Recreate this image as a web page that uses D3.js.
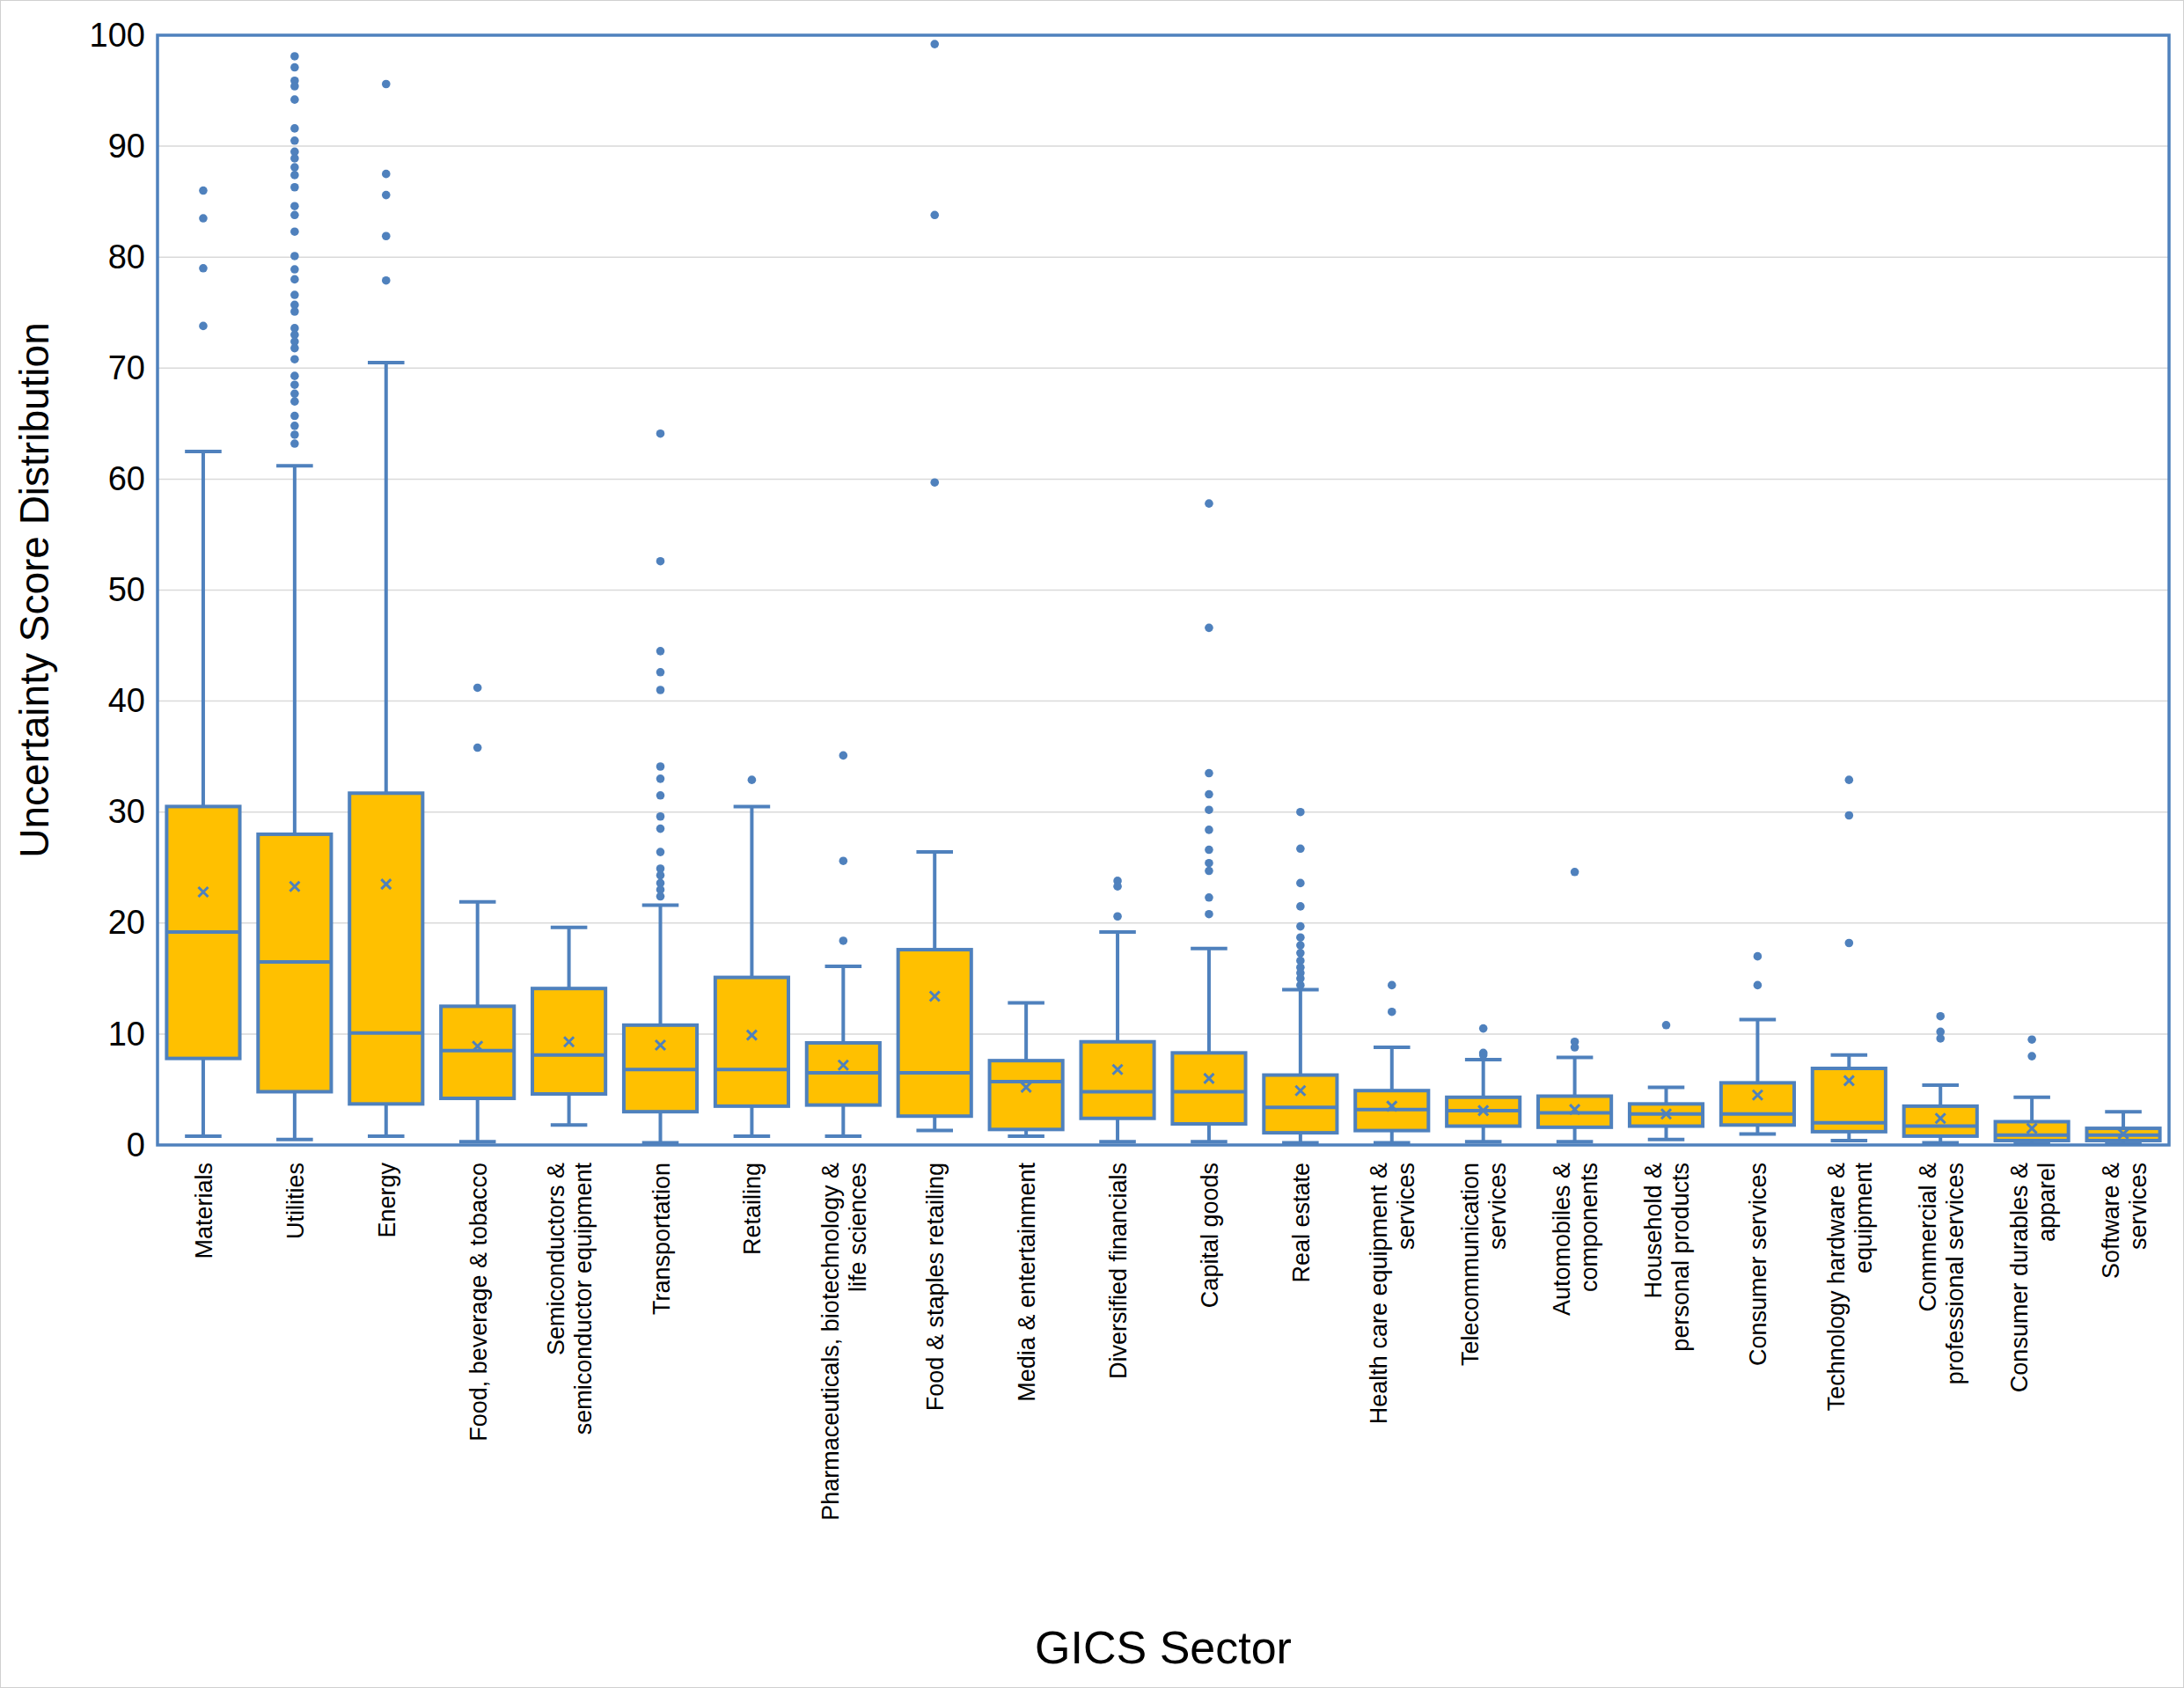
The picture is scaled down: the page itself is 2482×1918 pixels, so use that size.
<!DOCTYPE html><html><head><meta charset="utf-8"><script src="https://cdn.jsdelivr.net/npm/d3@7"></script>
<style>body{margin:0;background:#fff}svg{display:block}</style></head><body><svg id="c" width="2482" height="1918"></svg><script>
const categories=["Materials","Utilities","Energy","Food, beverage & tobacco","Semiconductors &\nsemiconductor equipment","Transportation","Retailing","Pharmaceuticals, biotechnology &\nlife sciences","Food & staples retailing","Media & entertainment","Diversified financials","Capital goods","Real estate","Health care equipment &\nservices","Telecommunication\nservices","Automobiles &\ncomponents","Household &\npersonal products","Consumer services","Technology hardware &\nequipment","Commercial &\nprofessional services","Consumer durables &\napparel","Software &\nservices"];
const mins=[0.8,0.5,0.8,0.3,1.8,0.2,0.8,0.8,1.3,0.8,0.3,0.3,0.2,0.2,0.3,0.3,0.5,1.0,0.4,0.2,0.1,0.1];
const q1s=[7.8,4.8,3.7,4.2,4.6,3.0,3.5,3.6,2.6,1.4,2.4,1.9,1.1,1.3,1.7,1.6,1.7,1.8,1.2,0.8,0.4,0.4];
const medians=[19.2,16.5,10.1,8.5,8.1,6.8,6.8,6.5,6.5,5.7,4.8,4.8,3.4,3.2,3.1,2.9,2.8,2.8,2.0,1.7,0.9,0.9];
const q3s=[30.5,28.0,31.7,12.5,14.1,10.8,15.1,9.2,17.6,7.6,9.3,8.3,6.3,4.9,4.3,4.4,3.7,5.6,6.9,3.5,2.1,1.5];
const maxs=[62.5,61.2,70.5,21.9,19.6,21.6,30.5,16.1,26.4,12.8,19.2,17.7,14.0,8.8,7.7,7.9,5.2,11.3,8.1,5.4,4.3,3.0];
const means=[22.8,23.3,23.5,8.9,9.3,9.0,9.9,7.2,13.4,5.2,6.8,6.0,4.9,3.5,3.1,3.2,2.8,4.5,5.8,2.4,1.5,1.0];
const outliers=[[86.0,83.5,79.0,73.8],
[98.1,97.1,95.9,95.4,94.2,91.6,90.5,89.5,88.9,88.1,87.4,86.3,84.6,83.8,82.3,80.1,78.9,78.0,76.6,75.7,75.1,73.6,73.0,72.4,71.8,70.8,69.3,68.5,67.7,67.0,65.7,64.8,64.0,63.2],
[95.6,87.5,85.6,81.9,77.9],[41.2,35.8],[],
[64.1,52.6,44.5,42.6,41.0,34.1,33.0,31.5,29.6,28.5,26.4,24.9,24.3,23.6,23.0,22.4],
[32.9],[35.1,25.6,18.4],[99.2,83.8,59.7],[],[23.8,23.3,20.6],
[57.8,46.6,33.5,31.6,30.2,28.4,26.6,25.4,24.7,22.3,20.8],
[30.0,26.7,23.6,21.5,19.7,18.7,18.0,17.3,16.6,16.0,15.5,15.0,14.4],
[14.4,12.0],[10.5,8.3,8.1],[24.6,9.3,8.8],[10.8],[17.0,14.4],[32.9,29.7,18.2],[11.6,10.2,9.6],[9.5,8.0],[]];
const yTicks=[0,10,20,30,40,50,60,70,80,90,100];
const blue="#4f81bd",gold="#ffc000";
const L=179,R=2465,T=40,B=1301;
const svg=d3.select("#c");
svg.append("rect").attr("x",0.5).attr("y",0.5).attr("width",2481).attr("height",1917).attr("fill","#fff").attr("stroke","#d0d0d0");
const x=d3.scaleBand().domain(categories).range([L,R]).paddingInner(0.2).paddingOuter(0.1);
const y=d3.scaleLinear().domain([0,100]).range([B,T]);
svg.append("g").selectAll("line").data(yTicks.slice(1)).join("line").attr("x1",L).attr("x2",R).attr("y1",d=>y(d)).attr("y2",d=>y(d)).attr("stroke","#d9d9d9").attr("stroke-width",1.5);
const ya=svg.append("g").attr("transform",`translate(${L},0)`).call(d3.axisLeft(y).tickValues(yTicks).tickSize(0).tickPadding(14));
ya.select(".domain").remove();
ya.selectAll("text").attr("font-family","Arial, Liberation Sans").attr("font-size",38).attr("fill","#000");
const g=svg.append("g");
categories.forEach((c,i)=>{
 const cx=x(c)+x.bandwidth()/2,w=x.bandwidth(),cw=w*0.5;
 const s=g.append("g").attr("stroke",blue).attr("stroke-width",4);
 s.append("line").attr("x1",cx).attr("x2",cx).attr("y1",y(maxs[i])).attr("y2",y(q3s[i]));
 s.append("line").attr("x1",cx).attr("x2",cx).attr("y1",y(q1s[i])).attr("y2",y(mins[i]));
 s.append("line").attr("x1",cx-cw/2).attr("x2",cx+cw/2).attr("y1",y(maxs[i])).attr("y2",y(maxs[i]));
 s.append("line").attr("x1",cx-cw/2).attr("x2",cx+cw/2).attr("y1",y(mins[i])).attr("y2",y(mins[i]));
 s.append("rect").attr("x",x(c)).attr("width",w).attr("y",y(q3s[i])).attr("height",y(q1s[i])-y(q3s[i])).attr("fill",gold);
 s.append("line").attr("x1",x(c)).attr("x2",x(c)+w).attr("y1",y(medians[i])).attr("y2",y(medians[i]));
 const my=y(means[i]),k=5.5;
 s.append("path").attr("d",`M${cx-k},${my-k}L${cx+k},${my+k}M${cx-k},${my+k}L${cx+k},${my-k}`).attr("stroke-width",3);
 outliers[i].forEach(v=>g.append("circle").attr("cx",cx).attr("cy",y(v)).attr("r",4.8).attr("fill",blue));
 const lines=c.split("\n");
 const t=svg.append("text").attr("transform",`translate(${cx},${B+20}) rotate(-90)`).attr("text-anchor","end")
  .attr("font-family","Arial, Liberation Sans").attr("font-size",27).attr("fill","#000");
 const n=lines.length;
 lines.forEach((ln,j)=>t.append("tspan").attr("x",0).attr("y",(j-(n-1)/2)*31+10).text(ln));
});
svg.append("rect").attr("x",L).attr("y",T).attr("width",R-L).attr("height",B-T).attr("fill","none").attr("stroke",blue).attr("stroke-width",3.5);
svg.append("text").attr("transform",`translate(55,${(T+B)/2}) rotate(-90)`).attr("text-anchor","middle").attr("font-family","Arial, Liberation Sans").attr("font-size",46).text("Uncertainty Score Distribution");
svg.append("text").attr("x",(L+R)/2).attr("y",1890).attr("text-anchor","middle").attr("font-family","Arial, Liberation Sans").attr("font-size",52).text("GICS Sector");
</script></body></html>
